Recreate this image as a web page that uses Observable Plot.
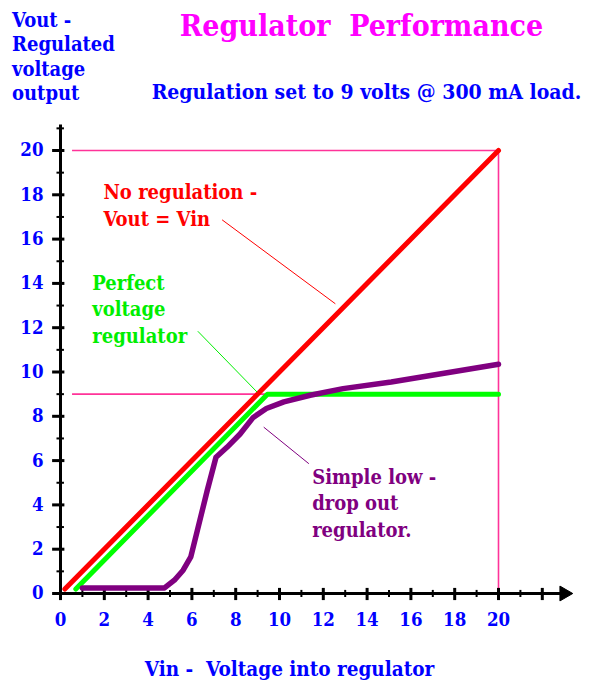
<!DOCTYPE html>
<html><head><meta charset="utf-8">
<script src="https://cdn.jsdelivr.net/npm/d3@7"></script>
<script src="https://cdn.jsdelivr.net/npm/@observablehq/plot@0.6"></script>
<style>
body{margin:0;background:#fff;}
#wrap{position:relative;width:591px;height:681px;overflow:hidden;background:#fff;}
.t{position:absolute;font-family:"DejaVu Serif Condensed","DejaVu Serif",serif;font-stretch:condensed;font-weight:bold;white-space:pre;line-height:1;}
</style></head><body>
<div id="wrap"></div>
<script>
// ---- data ----
const titleText = "Regulator  Performance";
const subtitleText = "Regulation set to 9 volts @ 300 mA load.";
const yLabelLines = ["Vout -", "Regulated", "voltage", "output"];
const xLabelText = "Vin -  Voltage into regulator";

const xTickLabels = [0, 2, 4, 6, 8, 10, 12, 14, 16, 18, 20];
const yTickLabels = [0, 2, 4, 6, 8, 10, 12, 14, 16, 18, 20];
const xMajorTicks = [0, 2, 4, 6, 8, 10, 12, 14, 16, 18, 20, 22];
const xMinorTicks = [1, 3, 5, 7, 9, 11, 13, 15, 17, 19, 21];
const yMajorTicks = [0, 2, 4, 6, 8, 10, 12, 14, 16, 18, 20];
const yMinorTicks = [1, 3, 5, 7, 9, 11, 13, 15, 17, 19, 21];

// No regulation: Vout = Vin
const noRegVin  = [0.2, 20];
const noRegVout = [0.2, 20];
// Perfect regulator
const perfVin  = [0.7, 9.45, 20];
const perfVout = [0.2, 9, 9];
// Simple low-drop-out regulator
const ldoVin  = [1.0, 4.75, 5.2, 5.6, 5.95, 6.25, 6.7, 7.1, 7.6, 8.2, 8.8, 9.4, 10.2, 11.4, 12.9, 15.1, 20];
const ldoVout = [0.25, 0.25, 0.6, 1.05, 1.65, 2.85, 4.65, 6.15, 6.6, 7.2, 7.95, 8.35, 8.65, 8.95, 9.25, 9.55, 10.35];

// reference lines
const refLevels = [20, 9];
const refVin = 20;

// annotations
const annotations = [
  {text: "No regulation -\nVout = Vin", x: 1.96, y: 18.64, color: "#ff0000", lx1: 7.38, ly1: 16.87, lx2: 12.55, ly2: 13.08},
  {text: "Perfect\nvoltage\nregulator", x: 1.45, y: 14.56, color: "#00ee00", lx1: 6.27, ly1: 11.84, lx2: 8.98, ly2: 9.09},
  {text: "Simple low -\ndrop out\nregulator.", x: 11.49, y: 5.80, color: "#800080", lx1: 9.28, ly1: 7.51, lx2: 11.34, ly2: 5.86}
];

const zip = (xs, ys) => xs.map((x, i) => ({x, y: ys[i]}));
const FONT = '"DejaVu Serif Condensed","DejaVu Serif",serif';
const BLUE = "#0000ff";
const PINK = "#ff3399";

const chart = Plot.plot({
  width: 591, height: 681,
  marginLeft: 60, marginRight: 93, marginTop: 150, marginBottom: 88,
  x: {domain: [0, 20]},
  y: {domain: [0, 20]},
  style: {fontFamily: FONT, fontStretch: "condensed", fontWeight: "bold", fontSize: "18px", background: "white", overflow: "visible"},
  marks: [
    // pink reference lines
    Plot.ruleY(refLevels, {x1: 0.55, x2: refVin, stroke: PINK, strokeWidth: 1.6}),
    Plot.ruleX([refVin], {y1: 0, y2: 20, stroke: PINK, strokeWidth: 1.6}),
    // axes lines
    Plot.ruleY([0], {x1: -0.3, x2: 23.0, stroke: "black", strokeWidth: 3}),
    Plot.ruleX([0], {y1: -0.25, y2: 21.15, stroke: "black", strokeWidth: 3}),
    Plot.dot([{x: 23.0, y: 0}], {x: "x", y: "y", symbol: "triangle", rotate: 90, r: 5.5, fill: "black", stroke: "black", strokeWidth: 1}),
    // ticks
    Plot.ruleX(xMajorTicks, {y1: -0.32, y2: 0.23, stroke: "black", strokeWidth: 3}),
    Plot.ruleX(xMinorTicks, {y1: -0.18, y2: 0.14, stroke: "black", strokeWidth: 2}),
    Plot.ruleY(yMajorTicks, {x1: -0.36, x2: 0.2, stroke: "black", strokeWidth: 3}),
    Plot.ruleY(yMinorTicks, {x1: -0.16, x2: 0.18, stroke: "black", strokeWidth: 2}),
    // tick labels
    Plot.axisX({ticks: xTickLabels, tickSize: 0, tickPadding: 19, color: BLUE, label: null, fontSize: 18.5}),
    Plot.axisY({ticks: yTickLabels, tickSize: 0, tickPadding: 17, color: BLUE, label: null, fontSize: 18.5}),
    // series
    Plot.line(zip(perfVin, perfVout), {x: "x", y: "y", stroke: "#00ff00", strokeWidth: 5}),
    Plot.line(zip(noRegVin, noRegVout), {x: "x", y: "y", stroke: "#ff0000", strokeWidth: 5}),
    Plot.line(zip(ldoVin, ldoVout), {x: "x", y: "y", stroke: "#800080", strokeWidth: 5.5, strokeLinecap: "round", strokeLinejoin: "round"}),
    // annotation leaders
    Plot.link(annotations, {x1: "lx1", y1: "ly1", x2: "lx2", y2: "ly2", stroke: "color", strokeWidth: 1}),
    // annotation texts
    Plot.text(annotations, {x: "x", y: "y", text: "text", fill: "color", textAnchor: "start", lineAnchor: "top", lineHeight: 1.32, fontSize: 20})
  ]
});

const wrap = document.getElementById("wrap");
chart.style.position = "absolute";
chart.style.left = "0px";
chart.style.top = "0px";
wrap.appendChild(chart);

function addText(txt, {left, top, size, color, center}) {
  const d = document.createElement("div");
  d.className = "t";
  d.textContent = txt;
  d.style.fontSize = size + "px";
  d.style.color = color;
  d.style.top = top + "px";
  d.style.left = left + "px";
  if (center) d.style.transform = "translateX(-50%)";
  wrap.appendChild(d);
  return d;
}
addText(titleText, {left: 361.5, top: 11.3, size: 30, color: "#ff00ff", center: true});
addText(subtitleText, {left: 366.5, top: 80.5, size: 21, color: BLUE, center: true});
const yl = addText(yLabelLines.join("\n"), {left: 12, top: 7.5, size: 20, color: BLUE});
yl.style.lineHeight = "24.5px";
addText(xLabelText, {left: 289.5, top: 659.4, size: 20.5, color: BLUE, center: true});
</script>
</body></html>
